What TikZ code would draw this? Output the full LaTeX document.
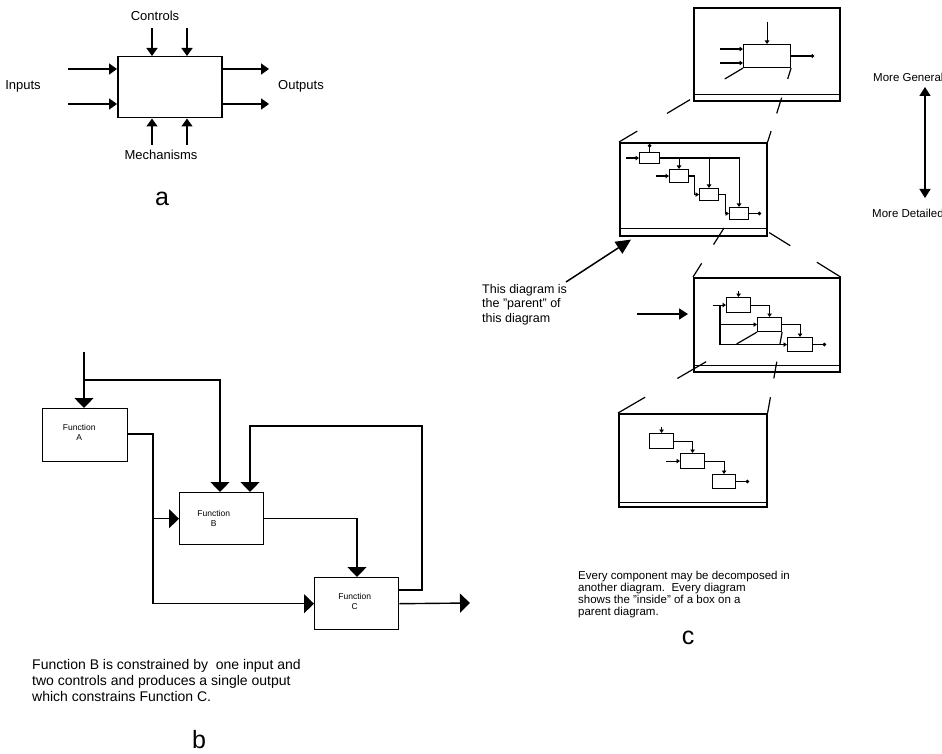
\documentclass[tikz,border=0pt]{standalone}
\usepackage{fontspec}
\setmainfont{Liberation Sans}
\usetikzlibrary{arrows.meta,calc}
\newcommand\projseg[4]{\draw[pl] ($(#1)!#3!(#2)$) -- ($(#1)!#4!(#2)$);}
\begin{document}
\begin{tikzpicture}[x=1pt,y=-1pt,
  abox/.style={draw,line width=1.5pt,inner sep=0pt,anchor=north west},
  aarr/.style={line width=1.5pt,-{Triangle[width=11pt,length=8pt]}},
  barr/.style={line width=1.4pt,-{Triangle[width=19pt,length=10pt]}},
  lbl/.style={font=\fontsize{13}{15}\selectfont,inner sep=0pt},
  ftext/.style={font=\fontsize{8.5}{10}\selectfont,align=center,inner sep=0pt},
  para/.style={align=left,inner sep=0pt,anchor=north west},
  big/.style={font=\fontsize{25}{25}\selectfont,inner sep=0pt},
  frame/.style={draw,line width=1.6pt,inner sep=0pt,anchor=north west},
  minib/.style={draw,line width=1.1pt,inner sep=0pt,anchor=north west},
  marr/.style={line width=1.1pt,-{Triangle[width=4.5pt,length=3.5pt]}},
  mdot/.style={line width=1.1pt,-{Circle[length=3.5pt]}},
  pl/.style={line width=1.2pt},
  parr/.style={line width=1.5pt,-{Triangle[width=14pt,length=15pt]}},
  sarr/.style={line width=1.5pt,-{Triangle[width=11pt,length=9pt]}},
  darr/.style={line width=1.5pt,{Triangle[width=11pt,length=9pt]}-{Triangle[width=11pt,length=9pt]}}
]
\useasboundingbox (0,0) rectangle (942,754);

% ---------------- part a ----------------
\node[abox,minimum width=104pt,minimum height=61pt] (F) at (117,56) {};
\coordinate (c1) at (152,28); \coordinate (c2) at (187,28);
\draw[aarr] (c1) -- (c1 |- F.north);
\draw[aarr] (c2) -- (c2 |- F.north);
\coordinate (i1) at (68,69); \coordinate (i2) at (68,104);
\draw[aarr] (i1) -- (i1 -| F.west);
\draw[aarr] (i2) -- (i2 -| F.west);
\coordinate (o1) at (269,69); \coordinate (o2) at (269,104);
\draw[aarr] (o1 -| F.east) -- (o1);
\draw[aarr] (o2 -| F.east) -- (o2);
\coordinate (m1) at (152,145); \coordinate (m2) at (187,145);
\draw[aarr] (m1) -- (m1 |- F.south);
\draw[aarr] (m2) -- (m2 |- F.south);
\node[lbl] (tctl) at (155,16) {Controls};
\node[lbl] (tin) at (23,86) {Inputs};
\node[lbl] (tout) at (301,86) {Outputs};
\node[lbl] (tmech) at (161,155) {Mechanisms};
\node[big] (la) at (162,199) {a};

% ---------------- part b ----------------
\node[abox,line width=1.4pt,minimum width=85pt,minimum height=53pt] (A) at (42,408) {};
\node[abox,line width=1.4pt,minimum width=84pt,minimum height=52pt] (B) at (179,492) {};
\node[abox,line width=1.4pt,minimum width=84pt,minimum height=52pt] (C) at (314,577) {};
\node[ftext] (At) at ($(A.center)+(-6,-3)$) {Function\\A};
\node[ftext] (Bt) at ($(B.center)+(-8,0)$) {Function\\B};
\node[ftext] (Ct) at ($(C.center)+(-2,-2)$) {Function\\C};
\coordinate (bin) at (84,352);
\draw[barr] (bin) -- (bin |- A.north);
\coordinate (bj) at (84,380);
\draw[barr] (bj) -| ($(B.north west)+(41,0)$);
\draw[barr] ($(C.north east)+(0,13)$) -| (422,426) -| ($(B.north west)+(71,0)$);
\coordinate (aj) at (153,434);
\draw[barr] (A.east |- aj) -- (aj) |- (C.west);
\draw[barr] (aj |- B.west) -- (B.west);
\draw[barr] (B.east) -| ($(C.north west)+(43,0)$);
\coordinate (cout) at (470,603);
\draw[barr] (C.east) -- (cout);
\node[para,font=\fontsize{14}{16}\selectfont] (tb) at (32,659) {Function B is constrained by\ \ one input and\\two controls and produces a single output\\which constrains Function C.};
\node[big] (lb) at (199,740) {b};

% ---------------- part c ----------------
\node[frame,minimum width=146pt,minimum height=93pt] (F1) at (693,7) {};
\draw[frame] ($(F1.south west)+(0,-7)$) -- ($(F1.south east)+(0,-7)$);
\node[frame,minimum width=147pt,minimum height=93pt] (F2) at (619,142) {};
\draw[frame] ($(F2.south west)+(0,-8)$) -- ($(F2.south east)+(0,-8)$);
\node[frame,minimum width=146pt,minimum height=94pt] (F3) at (693,277) {};
\draw[frame] ($(F3.south west)+(0,-7)$) -- ($(F3.south east)+(0,-7)$);
\node[frame,minimum width=148pt,minimum height=93pt] (F4) at (618,413) {};
\draw[frame] ($(F4.south west)+(0,-5)$) -- ($(F4.south east)+(0,-5)$);

% frame 1 contents
\node[minib,minimum width=47pt,minimum height=23pt] (g1) at (743,44) {};
\draw[marr] ($(g1.north)+(0,-22)$) -- (g1.north);
\draw[marr] (720,49) -- (743,49);
\draw[marr] (720,63) -- (743,63);
\draw[mdot] (g1.east) -- ++(23,0);

% frame 2 contents
\node[minib,minimum width=20pt,minimum height=11pt] (h2a) at (639,152) {};
\node[minib,minimum width=19pt,minimum height=13pt] (h2b) at (669,169) {};
\node[minib,minimum width=19pt,minimum height=12pt] (h2c) at (699,188) {};
\node[minib,minimum width=19pt,minimum height=12pt] (h2d) at (729,207) {};
\draw[mdot] (h2a.north) -- ++(0,-8);
\draw[marr] ($(h2a.west)+(-13,0)$) -- (h2a.west);
\draw[marr] (h2a.east) -| (h2d.north);
\draw[marr] (h2b.north |- h2a.east) -- (h2b.north);
\draw[marr] (h2c.north |- h2a.east) -- (h2c.north);
\draw[marr] ($(h2b.west)+(-13,0)$) -- (h2b.west);
\draw[marr] (h2b.east) -- ++(5,0) |- (h2c.west);
\draw[marr] (h2c.east) -- ++(6,0) |- (h2d.west);
\draw[mdot] (h2d.east) -- ++(12,0);

% frame 3 contents
\node[minib,minimum width=24pt,minimum height=15pt] (k3a) at (726,297) {};
\node[minib,minimum width=24pt,minimum height=14pt] (k3b) at (757,317) {};
\node[minib,minimum width=25pt,minimum height=14pt] (k3c) at (787,337) {};
\draw[marr] ($(k3a.north)+(0,-6)$) -- (k3a.north);
\draw[marr] ($(k3a.west)+(-13,0)$) -- (k3a.west);
\coordinate (k3j) at ($(k3a.west)+(-6,0)$);
\draw[marr] (k3j) |- (k3c.west);
\draw[marr] (k3j |- k3b.west) -- (k3b.west);
\draw[marr] (k3a.east) -| (k3b.north);
\draw[marr] (k3b.east) -| (k3c.north);
\draw[mdot] (k3c.east) -- ++(13,0);

% frame 4 contents
\node[minib,minimum width=24pt,minimum height=15pt] (m4a) at (649,433) {};
\node[minib,minimum width=24pt,minimum height=15pt] (m4b) at (680,453) {};
\node[minib,minimum width=23pt,minimum height=14pt] (m4c) at (712,474) {};
\draw[marr] ($(m4a.north)+(0,-6)$) -- (m4a.north);
\draw[marr] (m4a.east) -| (m4b.north);
\draw[marr] ($(m4b.west)+(-14,0)$) -- (m4b.west);
\draw[marr] (m4b.east) -| (m4c.north);
\draw[mdot] (m4c.east) -- ++(13,0);

% projection lines
\coordinate (P1) at (g1.south west); \coordinate (Q1) at (F2.north west);
\coordinate (P2) at (g1.south east); \coordinate (Q2) at (F2.north east);
\projseg{P1}{Q1}{0}{0.147}\projseg{P1}{Q1}{0.427}{0.613}\projseg{P1}{Q1}{0.853}{1}
\projseg{P2}{Q2}{0}{0.147}\projseg{P2}{Q2}{0.4}{0.613}\projseg{P2}{Q2}{0.853}{1}
\coordinate (P3) at (h2d.south west); \coordinate (Q3) at (F3.north west);
\coordinate (P4) at (h2d.south east); \coordinate (Q4) at (F3.north east);
\projseg{P3}{Q3}{0.138}{0.43}\projseg{P3}{Q3}{0.76}{1}
\projseg{P4}{Q4}{0.22}{0.45}\projseg{P4}{Q4}{0.74}{1}
\coordinate (P5) at (k3b.south west); \coordinate (Q5) at (F4.north west);
\coordinate (P6) at (k3b.south east); \coordinate (Q6) at (F4.north east);
\projseg{P5}{Q5}{0}{0.146}\projseg{P5}{Q5}{0.366}{0.573}\projseg{P5}{Q5}{0.805}{1}
\projseg{P6}{Q6}{0}{0.146}\projseg{P6}{Q6}{0.366}{0.573}\projseg{P6}{Q6}{0.805}{1}

% parent annotation
\node[para,font=\fontsize{12.5}{14.5}\selectfont] (pt) at (482,284) {This diagram is\\the "parent" of\\this diagram};
\coordinate (pa) at (566,282);
\draw[parr] (pa) -- ($(F2.south west)+(12,3)$);
\coordinate (ar2) at (637,314);
\draw[sarr] (ar2) -- ($(ar2 -| F3.west)+(-5,0)$);

% general / detailed
\node[inner sep=0pt,anchor=west,font=\fontsize{11.5}{13}\selectfont] (mg) at (873,77) {More General};
\node[inner sep=0pt,anchor=west,font=\fontsize{11.5}{13}\selectfont] (md) at (872,213) {More Detailed};
\coordinate (mga) at (925,87); \coordinate (mda) at (925,198);
\draw[darr] (mga) -- (mda);

\node[para,font=\fontsize{11.5}{12}\selectfont] (tc) at (578,571) {Every component may be decomposed in\\another diagram.\ \ Every diagram\\shows the "inside" of a box on a\\parent diagram.};
\node[big] (lc) at (688,638) {c};
\end{tikzpicture}
\end{document}
